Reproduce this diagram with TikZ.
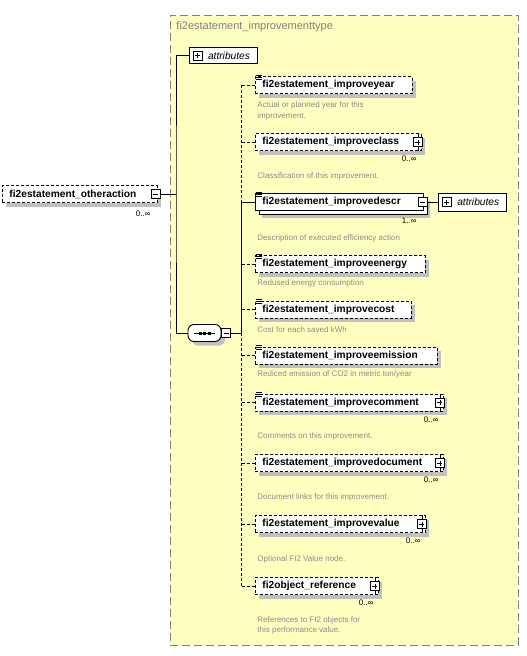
\documentclass[tikz,border=0pt]{standalone}
\usepackage{fontspec}
\setmainfont{Liberation Sans}
\usetikzlibrary{positioning, shadows}
\definecolor{typefill}{HTML}{FFFFC0}
\definecolor{typeedge}{HTML}{808080}
\definecolor{notegray}{HTML}{8C8C8C}
\definecolor{shadegray}{HTML}{C0C0C0}
\newcommand{\elfont}{\fontsize{10.2}{12}\selectfont\bfseries}
\newcommand{\notefont}{\fontsize{8}{10.6}\selectfont}
\newcommand{\occfont}{\fontsize{8}{9}\selectfont}
\newcommand{\attrfont}{\fontsize{10.2}{12}\selectfont\itshape}
\tikzset{
    typeframe/.style={rectangle, draw=typeedge, fill=typefill, dash pattern=on 8pt off 4pt, minimum width=348pt, minimum height=630pt},
    typetitle/.style={anchor=west, inner sep=0pt, font=\fontsize{11}{12}\selectfont, text=typeedge},
    elbase/.style={rectangle, draw=black, fill=white, anchor=west, minimum height=17pt, inner xsep=7pt, inner ysep=0pt, align=left, font=\elfont},
    elem/.style={elbase, general shadow={draw=none, fill=shadegray, shadow xshift=4pt, shadow yshift=-4pt}},
    optelem/.style={elem, dash pattern=on 3pt off 2pt},
    multielem/.style={elbase, general shadow={draw=none, fill=shadegray, shadow xshift=7pt, shadow yshift=-7pt}, copy shadow={shadow xshift=3.5pt, shadow yshift=-3.5pt}},
    attrbox/.style={rectangle, draw=black, fill=white, inner xsep=4pt, inner ysep=0pt, text width=60pt, minimum height=16pt, align=left, font=\attrfont},
    seqbox/.style={rectangle, draw=black, fill=white, rounded corners=6pt, minimum width=33pt, minimum height=17pt, inner sep=0pt, general shadow={draw=none, fill=shadegray, shadow xshift=4pt, shadow yshift=-4pt}},
    pmbox/.style={rectangle, draw=black, fill=white, minimum size=9pt, inner sep=0pt, line width=0.8pt},
    plusbox/.style={pmbox, path picture={\draw ([xshift=2pt]path picture bounding box.west) -- ([xshift=-2pt]path picture bounding box.east) ([yshift=-2pt]path picture bounding box.north) -- ([yshift=2pt]path picture bounding box.south);}},
    minusbox/.style={pmbox, path picture={\draw ([xshift=2pt]path picture bounding box.west) -- ([xshift=-2pt]path picture bounding box.east);}},
    note/.style={anchor=west, inner sep=0pt, align=left, font=\notefont, text=notegray},
    occ/.style={anchor=north east, inner sep=0pt, font=\occfont},
    link/.style={draw=black, line width=0.9pt},
    optlink/.style={link, dash pattern=on 3pt off 2pt}
}
\begin{document}
\begin{tikzpicture}[x=1pt, y=-1pt, line width=0.9pt]
    \useasboundingbox (0,0) rectangle (527,656);
    % complex type
    \node[typeframe] (frame) at (344,330) {};
    \node[typetitle] (title) at (176,27) {fi2estatement\_improvementtype};
    \node[attrbox] (attrs) at (223,55.5) {\hspace*{15pt}attributes};
    \node[plusbox] (attrs-pm) at ([xshift=9pt]attrs.west) {};

    % parent element
    \node[optelem, text width=141pt] (other) at (2,194) {fi2estatement\_otheraction};
    \node[minusbox] (other-pm) at ([xshift=-2pt]other.east) {};
    \node[occ] (other-occ) at ([shift={(-7pt,-8pt)}]other.south east) {0..∞};

    % sequence
    \node[seqbox] (seq) at (204.5,333) {};
    \node[minusbox, right=0pt of seq] (seq-pm) {};
    \draw[line width=0.8pt] ([xshift=6pt]seq.west) -- ([xshift=-6pt]seq.east);
    \foreach \dx in {-4.5,0,4.5}
        \fill ([xshift=\dx pt]seq.center) +(-1.5pt,-1.5pt) rectangle +(1.5pt,1.5pt);

    % children
    \node[optelem, text width=143pt] (year) at (255,85) {fi2estatement\_improveyear};
    \node[note] (year-note) at (257,111) {Actual or planned year for this\\improvement.};

    \node[optelem, text width=152pt] (class) at (255,142) {fi2estatement\_improveclass};
    \node[occ] (class-occ) at ([shift={(-5pt,-5pt)}]class.south east) {0..∞};
    \node[note] (class-note) at (257,176.5) {Classification of this improvement.};

    \node[multielem, text width=154pt] (descr) at (255,202) {fi2estatement\_improvedescr};
    \node[minusbox] (descr-pm) at ([xshift=-1pt]descr.east) {};
    \node[occ] (descr-occ) at ([shift={(-7pt,-7pt)}]descr.south east) {1..∞};
    \node[attrbox, right=10pt of descr-pm, minimum height=18pt] (descr-attrs) {\hspace*{15pt}attributes};
    \node[plusbox] (descr-attrs-pm) at ([xshift=9pt]descr-attrs.west) {};
    \node[note] (descr-note) at (257,238) {Description of executed efficiency action};

    \node[optelem, text width=156pt] (energy) at (255,264) {fi2estatement\_improveenergy};
    \node[note] (energy-note) at (257,283.5) {Redused energy consumption};

    \node[optelem, text width=142pt] (cost) at (255,309.5) {fi2estatement\_improvecost};
    \node[note] (cost-note) at (257,329.5) {Cost for each saved kWh};

    \node[optelem, text width=168pt] (emission) at (255,355.5) {fi2estatement\_improveemission};
    \node[note] (emission-note) at (257,374.5) {Rediced emission of CO2 in metric ton/year};

    \node[optelem, text width=174pt] (comment) at (255,402.5) {fi2estatement\_improvecomment};
    \node[occ] (comment-occ) at ([shift={(-5pt,-5pt)}]comment.south east) {0..∞};
    \node[note] (comment-note) at (257,436) {Comments on this improvement.};

    \node[optelem, text width=174pt] (document) at (255,463) {fi2estatement\_improvedocument};
    \node[occ] (document-occ) at ([shift={(-5pt,-5pt)}]document.south east) {0..∞};
    \node[note] (document-note) at (257,497) {Document links for this improvement.};

    \node[optelem, text width=156pt] (value) at (255,524) {fi2estatement\_improvevalue};
    \node[occ] (value-occ) at ([shift={(-5pt,-5pt)}]value.south east) {0..∞};
    \node[note] (value-note) at (257,559.5) {Optional FI2 Value node.};

    \node[optelem, text width=109pt] (ref) at (255,586) {fi2object\_reference};
    \node[occ] (ref-occ) at ([shift={(-5pt,-5pt)}]ref.south east) {0..∞};
    \node[note] (ref-note) at (257,625.5) {References to FI2 objects for\\this performance value.};

    % type icons
    \foreach \el in {class,comment,document,value,ref} {
        \node[plusbox] (\el-pm) at ([xshift=-4pt]\el.east) {};
        \draw[line width=0.8pt] (\el-pm.north) -- (\el-pm.north |- \el.north)
            (\el-pm.south) -- (\el-pm.south |- \el.south);
    }
    \foreach \el in {year,descr,energy,cost,emission,comment}
        \foreach \dy in {1,-1,-3}
            \draw[line width=0.7pt] ([xshift=0.5pt, yshift=\dy pt]\el.north west) -- ++(6pt,0);

    % connectors
    \coordinate (trunk) at (176,194);
    \coordinate (spine) at (241,333);
    \draw[link] (other-pm) -- (trunk);
    \draw[link] (attrs.west) -| (trunk) |- (seq.west);
    \draw[link] (seq-pm) -- (spine);
    \draw[optlink] (year.west -| spine) -- (descr.west -| spine);
    \draw[link] (descr.west -| spine) -- (spine);
    \draw[optlink] (spine) -- (ref.west -| spine);
    \draw[link] (descr.west) -- (descr.west -| spine);
    \foreach \el in {year,class,energy,cost,emission,comment,document,value,ref}
        \draw[optlink] (\el.west) -- (\el.west -| spine);
    \draw[link] (descr-pm) -- (descr-attrs);
\end{tikzpicture}
\end{document}
